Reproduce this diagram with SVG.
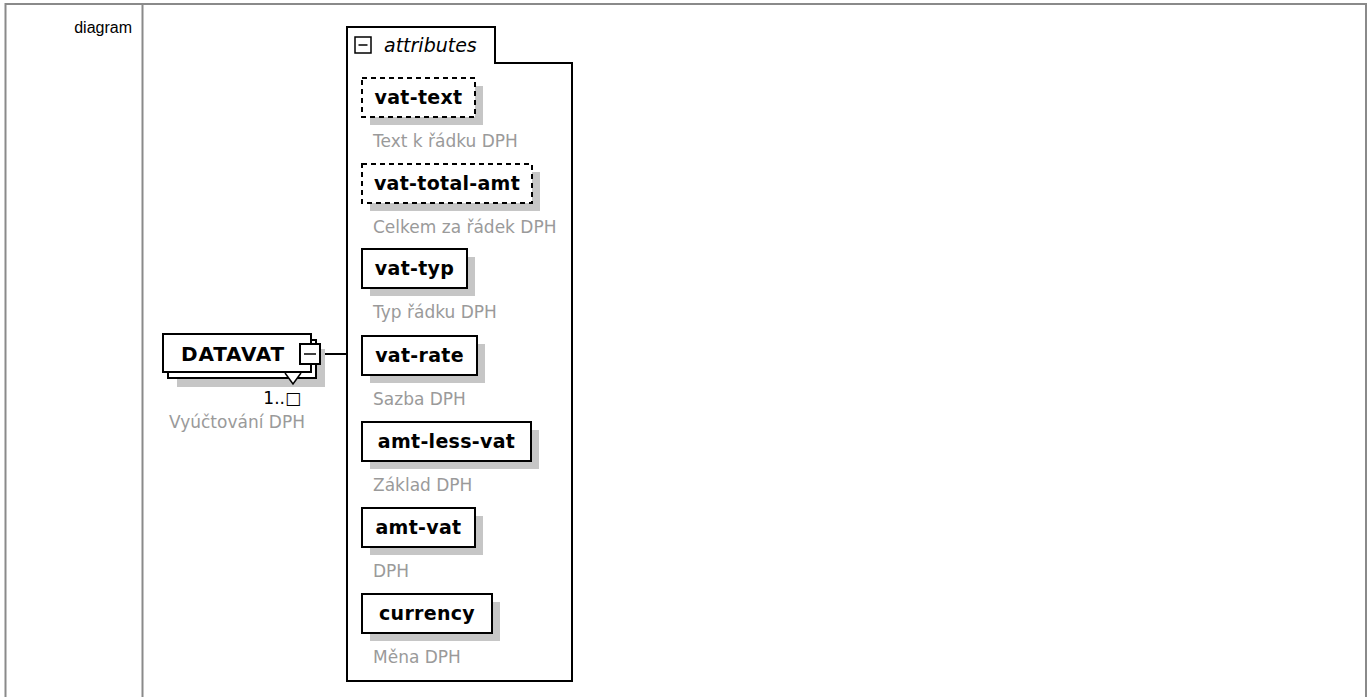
<svg xmlns="http://www.w3.org/2000/svg" width="1369" height="697" viewBox="0 0 1369 697">
<style>
.frame{fill:none;stroke:#8a8a8a;stroke-width:2}
.cap{font-family:"Liberation Sans",Arial,sans-serif;font-size:16px;fill:#000}
.box{fill:#fff;stroke:#000;stroke-width:2}
.dash{stroke-dasharray:5 4}
.shadow{fill:#c6c6c6}
.name{font-family:"DejaVu Sans",Verdana,sans-serif;font-weight:bold;font-size:19px;fill:#000;letter-spacing:0.3px}
.big{font-size:20px;letter-spacing:0.8px}
.note{font-family:"DejaVu Sans",Verdana,sans-serif;font-size:17px;fill:#9a9a9a}
.occ{font-family:"DejaVu Sans",Verdana,sans-serif;font-size:17px;fill:#000}
.ital{font-family:"DejaVu Sans",Verdana,sans-serif;font-style:italic;font-size:19px;fill:#000}
.line{fill:none;stroke:#000;stroke-width:2}
.thin{fill:none;stroke:#000;stroke-width:1.5}
</style>
<rect x="0" y="0" width="1369" height="697" fill="#fff"/>
<g id="table">
<path class="frame" d="M5.5,697 V4 H1366 V697"/>
<line class="frame" x1="142.5" y1="4" x2="142.5" y2="697"/>
<text class="cap" x="132" y="33" text-anchor="end">diagram</text>
</g>
<g id="connectors">
<line class="line" x1="320" y1="354" x2="347" y2="354"/>
</g>
<g id="DATAVAT">
<rect class="shadow" x="177" y="349" width="148" height="38"/>
<rect class="box" x="168" y="340" width="148" height="38"/>
<rect class="box" x="163" y="334" width="148" height="38"/>
<text class="name big" x="181" y="361">DATAVAT</text>
<rect class="box" x="300" y="344" width="20" height="20"/>
<line class="thin" x1="304" y1="354" x2="316" y2="354"/>
<path d="M285,373 L293,384 L301,373" fill="#fff" stroke="#000" stroke-width="1.5"/>
<text class="occ" x="301" y="404" text-anchor="end">1..□</text>
<text class="note" x="169" y="428">Vyúčtování DPH</text>
</g>
<g id="attributes">
<path class="line" d="M347,27 H495 V63 H572 V681 H347 Z" fill="#fff"/>
<rect class="thin" x="355" y="37" width="16" height="16"/>
<line class="thin" x1="358.5" y1="45" x2="367.5" y2="45"/>
<text class="ital" x="384" y="52">attributes</text>
</g>
<g id="vat-text">
<rect class="shadow" x="370" y="86" width="113" height="39"/>
<rect class="box dash" x="362" y="78" width="113" height="39"/>
<text class="name" x="418.5" y="104" text-anchor="middle">vat-text</text>
<text class="note" x="373" y="147">Text k řádku DPH</text>
</g>
<g id="vat-total-amt">
<rect class="shadow" x="370" y="172" width="170" height="39"/>
<rect class="box dash" x="362" y="164" width="170" height="39"/>
<text class="name" x="447" y="190" text-anchor="middle">vat-total-amt</text>
<text class="note" x="373" y="233">Celkem za řádek DPH</text>
</g>
<g id="vat-typ">
<rect class="shadow" x="370" y="257" width="105" height="39"/>
<rect class="box" x="362" y="249" width="105" height="39"/>
<text class="name" x="414.5" y="275" text-anchor="middle">vat-typ</text>
<text class="note" x="373" y="318">Typ řádku DPH</text>
</g>
<g id="vat-rate">
<rect class="shadow" x="370" y="344" width="115" height="39"/>
<rect class="box" x="362" y="336" width="115" height="39"/>
<text class="name" x="419.5" y="362" text-anchor="middle">vat-rate</text>
<text class="note" x="373" y="405">Sazba DPH</text>
</g>
<g id="amt-less-vat">
<rect class="shadow" x="370" y="430" width="169" height="39"/>
<rect class="box" x="362" y="422" width="169" height="39"/>
<text class="name" x="446.5" y="448" text-anchor="middle">amt-less-vat</text>
<text class="note" x="373" y="491">Základ DPH</text>
</g>
<g id="amt-vat">
<rect class="shadow" x="370" y="516" width="113" height="39"/>
<rect class="box" x="362" y="508" width="113" height="39"/>
<text class="name" x="418.5" y="534" text-anchor="middle">amt-vat</text>
<text class="note" x="373" y="577">DPH</text>
</g>
<g id="currency">
<rect class="shadow" x="370" y="602" width="130" height="39"/>
<rect class="box" x="362" y="594" width="130" height="39"/>
<text class="name" x="427" y="620" text-anchor="middle">currency</text>
<text class="note" x="373" y="663">Měna DPH</text>
</g>
</svg>
